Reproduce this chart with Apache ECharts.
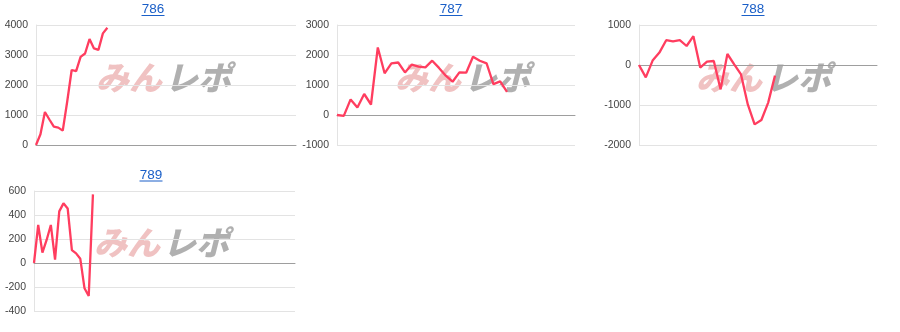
<!DOCTYPE html>
<html>
<head>
<meta charset="utf-8">
<script src="https://cdn.jsdelivr.net/npm/echarts@6/dist/echarts.min.js"></script>
<style>
html,body{margin:0;padding:0;background:#fff;}
#c{width:900px;height:332px;}
</style>
</head>
<body>
<div id="c"></div>
<script>
// ---- data ----
const titles = ['786', '787', '788', '789'];
const s786 = [0, 360, 1100, 850, 610, 580, 480, 1450, 2500, 2460, 2940, 3050, 3530, 3220, 3170, 3720, 3910];
const s787 = [0, -30, 520, 250, 700, 350, 2250, 1390, 1720, 1750, 1420, 1680, 1610, 1590, 1810, 1570, 1310, 1110, 1420, 1410, 1940, 1810, 1720, 1030, 1120, 770];
const s788 = [0, -310, 110, 310, 620, 590, 620, 475, 720, -65, 85, 100, -610, 275, 15, -235, -985, -1485, -1375, -940, -265];
const s789 = [0, 317, 86, 192, 317, 28, 430, 497, 455, 108, 80, 35, -211, -275, 572];
const yMin = [0, -1000, -2000, -400];
const yMax = [4000, 3000, 1000, 600];
const yStep = [1000, 1000, 1000, 200];
const xSlots = [58.3, 35, 35, 62];
const watermarkA = 'みん';
const watermarkB = 'レポ';

// ---- layout ----
const seriesData = [s786, s787, s788, s789];
const grids = [
  {left: 36, top: 25, width: 260, height: 120},
  {left: 337, top: 25, width: 238, height: 120},
  {left: 639, top: 25, width: 238, height: 120},
  {left: 34, top: 191, width: 261, height: 120}
];
const titlePos = [[153, 9.5], [451, 9.5], [753, 9.5], [151, 175]];
const wmPos = [[0, 0], [299, 0], [600, 0], [-2, 165]];
const LINK = '#1a5fc8';
const FONT = '"Liberation Sans", Arial, sans-serif';

const chart = echarts.init(document.getElementById('c'), null, {renderer: 'canvas'});

const graphic = [];
titles.forEach((t, i) => {
  const [cx, cy] = titlePos[i];
  graphic.push({
    type: 'text', z: 10,
    style: {text: t, x: cx, y: cy, textAlign: 'center', textVerticalAlign: 'middle',
      fontSize: 13.5, fontFamily: FONT, fill: LINK}
  });
  graphic.push({
    type: 'line', z: 10,
    shape: {x1: cx - 11.5, y1: cy + 6, x2: cx + 11.5, y2: cy + 6},
    style: {stroke: LINK, lineWidth: 1}
  });
  const [ox, oy] = wmPos[i];
  graphic.push({
    type: 'text', z: -10,
    style: {text: watermarkA, x: 96 + ox, y: 77 + oy, textVerticalAlign: 'middle',
      fontSize: 33, fontWeight: 900, fontStyle: 'italic',
      fontFamily: '"Noto Sans CJK JP", sans-serif', fill: 'rgba(222,120,120,0.45)'}
  });
  graphic.push({
    type: 'text', z: -10,
    style: {text: watermarkB, x: 165 + ox, y: 77 + oy, textVerticalAlign: 'middle',
      fontSize: 33, fontWeight: 900, fontStyle: 'italic',
      fontFamily: '"Noto Sans CJK JP", sans-serif', fill: 'rgba(150,150,150,0.75)'}
  });
});

const option = {
  backgroundColor: '#fff',
  animation: false,
  grid: grids.map(g => Object.assign({containLabel: false}, g)),
  xAxis: grids.map((g, i) => ({
    type: 'value', gridIndex: i, min: 0, max: xSlots[i],
    axisLabel: {show: false}, axisTick: {show: false},
    splitLine: {show: false},
    axisLine: {show: true, onZero: true, lineStyle: {color: '#9e9e9e', width: 1}}
  })),
  yAxis: grids.map((g, i) => ({
    type: 'value', gridIndex: i, min: yMin[i], max: yMax[i], interval: yStep[i],
    axisTick: {show: false},
    axisLine: {show: true, onZero: false, lineStyle: {color: '#e3e3e3', width: 1}},
    splitLine: {show: true, lineStyle: {color: '#e3e3e3', width: 1}},
    axisLabel: {color: '#444', fontSize: 10.5, fontFamily: FONT, margin: 8,
      formatter: v => String(v)}
  })),
  series: seriesData.map((d, i) => ({
    type: 'line', xAxisIndex: i, yAxisIndex: i,
    data: d.map((v, k) => [k, v]),
    showSymbol: false, symbol: 'none',
    lineStyle: {color: '#ff3d5f', width: 2.3},
    itemStyle: {color: '#ff3d5f'},
    z: 5
  })),
  graphic: graphic
};
chart.setOption(option);
</script>
</body>
</html>
